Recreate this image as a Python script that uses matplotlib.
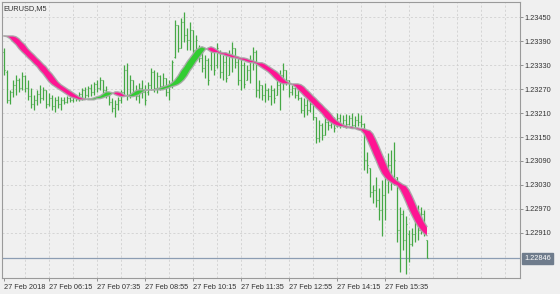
import matplotlib
matplotlib.use("Agg")
import matplotlib.pyplot as plt
import numpy as np

plt.rcParams['font.family'] = ['Liberation Sans', 'DejaVu Sans']

symbol = "EURUSD,M5"

high = [1.23373, 1.23318, 1.23268, 1.23293, 1.23306, 1.23298, 1.23313, 1.23306, 1.23293, 1.23273,
        1.23256, 1.23268, 1.23281, 1.23276, 1.23268, 1.23261, 1.23256, 1.23251, 1.23253, 1.23251,
        1.23251, 1.23253, 1.23251, 1.23253, 1.23253, 1.23263, 1.23273, 1.23276, 1.23278, 1.23283,
        1.23288, 1.23293, 1.23301, 1.23293, 1.23278, 1.23263, 1.23248, 1.23243, 1.23251, 1.23268,
        1.23331, 1.23336, 1.23306, 1.23293, 1.23281, 1.23286, 1.23293, 1.23281, 1.23288, 1.23323,
        1.23318, 1.23313, 1.23306, 1.23311, 1.23298, 1.23293, 1.23343, 1.23443, 1.23431, 1.23448,
        1.23463, 1.23423, 1.23438, 1.23418, 1.23406, 1.23381, 1.23363, 1.23356, 1.23348, 1.23373,
        1.23363, 1.23386, 1.23368, 1.23356, 1.23356, 1.23368, 1.23388, 1.23373, 1.23351, 1.23348,
        1.23338, 1.23331, 1.23356, 1.23376, 1.23368, 1.23293, 1.23281, 1.23286, 1.23273, 1.23281,
        1.23273, 1.23293, 1.23318, 1.23336, 1.23318, 1.23293, 1.23281, 1.23276, 1.23268, 1.23251,
        1.23248, 1.23251, 1.23243, 1.23236, 1.23201, 1.23193, 1.23186, 1.23198, 1.23211, 1.23206,
        1.23201, 1.23211, 1.23208, 1.23206, 1.23208, 1.23206, 1.23211, 1.23203, 1.23211, 1.23206,
        1.23186, 1.23113, 1.23073, 1.23031, 1.23051, 1.23023, 1.23043, 1.23068, 1.23111, 1.23118,
        1.23138, 1.23051, 1.22976, 1.22968, 1.22951, 1.22918, 1.22923, 1.22968, 1.22981, 1.22976,
        1.22968, 1.22893]
low = [1.23306, 1.23236, 1.23233, 1.23251, 1.23256, 1.23263, 1.23268, 1.23263, 1.23243, 1.23223,
       1.23218, 1.23231, 1.23236, 1.23243, 1.23223, 1.23228, 1.23218, 1.23213, 1.23223, 1.23218,
       1.23233, 1.23236, 1.23238, 1.23238, 1.23241, 1.23241, 1.23243, 1.23246, 1.23251, 1.23253,
       1.23256, 1.23263, 1.23268, 1.23261, 1.23248, 1.23231, 1.23213, 1.23201, 1.23218, 1.23236,
       1.23256, 1.23243, 1.23248, 1.23253, 1.23243, 1.23236, 1.23248, 1.23231, 1.23256, 1.23268,
       1.23263, 1.23261, 1.23268, 1.23273, 1.23253, 1.23243, 1.23273, 1.23348, 1.23363, 1.23373,
       1.23388, 1.23368, 1.23368, 1.23356, 1.23348, 1.23338, 1.23313, 1.23298, 1.23281, 1.23318,
       1.23306, 1.23323, 1.23298, 1.23293, 1.23288, 1.23306, 1.23313, 1.23323, 1.23281, 1.23268,
       1.23273, 1.23293, 1.23286, 1.23318, 1.23251, 1.23248, 1.23243, 1.23238, 1.23243, 1.23231,
       1.23236, 1.23256, 1.23218, 1.23268, 1.23281, 1.23251, 1.23256, 1.23248, 1.23243, 1.23211,
       1.23201, 1.23206, 1.23213, 1.23193, 1.23136, 1.23138, 1.23143, 1.23156, 1.23168, 1.23173,
       1.23163, 1.23176, 1.23173, 1.23176, 1.23173, 1.23181, 1.23173, 1.23173, 1.23178, 1.23176,
       1.23068, 1.23061, 1.23001, 1.22986, 1.22976, 1.22943, 1.22901, 1.22943, 1.23011, 1.23018,
       1.23031, 1.22886, 1.22811, 1.22868, 1.22806, 1.22836, 1.22876, 1.22886, 1.22893, 1.22906,
       1.22901, 1.22846]
open_ = [1.23363, 1.23313, 1.23243, 1.23263, 1.23281, 1.23293, 1.23273, 1.23303, 1.23273, 1.23253,
         1.23233, 1.23243, 1.23258, 1.23248, 1.23268, 1.23233, 1.23248, 1.23228, 1.23243, 1.23233,
         1.23243, 1.23238, 1.23248, 1.23243, 1.23251, 1.23246, 1.23258, 1.23268, 1.23256, 1.23273,
         1.23263, 1.23283, 1.23273, 1.23293, 1.23268, 1.23256, 1.23238, 1.23223, 1.23233, 1.23243,
         1.23263, 1.23318, 1.23256, 1.23293, 1.23263, 1.23253, 1.23273, 1.23263, 1.23263, 1.23281,
         1.23313, 1.23273, 1.23303, 1.23278, 1.23298, 1.23263, 1.23283, 1.23351, 1.23431, 1.23373,
         1.23438, 1.23406, 1.23393, 1.23418, 1.23368, 1.23373, 1.23348, 1.23323, 1.23343, 1.23331,
         1.23363, 1.23331, 1.23363, 1.23313, 1.23338, 1.23306, 1.23356, 1.23373, 1.23338, 1.23293,
         1.23331, 1.23293, 1.23318, 1.23343, 1.23363, 1.23268, 1.23281, 1.23256, 1.23268, 1.23253,
         1.23268, 1.23256, 1.23281, 1.23306, 1.23318, 1.23293, 1.23263, 1.23273, 1.23256, 1.23248,
         1.23218, 1.23231, 1.23218, 1.23233, 1.23201, 1.23148, 1.23181, 1.23156, 1.23188, 1.23181,
         1.23198, 1.23178, 1.23198, 1.23183, 1.23193, 1.23183, 1.23198, 1.23181, 1.23193, 1.23188,
         1.23183, 1.23093, 1.23073, 1.23013, 1.23018, 1.22993, 1.22968, 1.23006, 1.23048, 1.23081,
         1.23043, 1.23051, 1.22918, 1.22956, 1.22893, 1.22906, 1.22881, 1.22906, 1.22943, 1.22918,
         1.22956, 1.22893]
close = [1.23318, 1.23243, 1.23263, 1.23281, 1.23293, 1.23273, 1.23303, 1.23273, 1.23253, 1.23233,
         1.23243, 1.23258, 1.23248, 1.23268, 1.23233, 1.23248, 1.23228, 1.23243, 1.23233, 1.23243,
         1.23238, 1.23248, 1.23243, 1.23251, 1.23246, 1.23258, 1.23268, 1.23256, 1.23273, 1.23263,
         1.23283, 1.23273, 1.23293, 1.23268, 1.23256, 1.23238, 1.23223, 1.23233, 1.23243, 1.23263,
         1.23318, 1.23256, 1.23293, 1.23263, 1.23253, 1.23273, 1.23263, 1.23243, 1.23281, 1.23313,
         1.23273, 1.23303, 1.23278, 1.23298, 1.23263, 1.23283, 1.23338, 1.23431, 1.23373, 1.23438,
         1.23406, 1.23393, 1.23418, 1.23368, 1.23393, 1.23348, 1.23323, 1.23343, 1.23293, 1.23363,
         1.23318, 1.23373, 1.23313, 1.23338, 1.23298, 1.23356, 1.23373, 1.23338, 1.23293, 1.23331,
         1.23283, 1.23318, 1.23343, 1.23363, 1.23268, 1.23281, 1.23256, 1.23268, 1.23253, 1.23268,
         1.23248, 1.23281, 1.23306, 1.23318, 1.23293, 1.23263, 1.23273, 1.23256, 1.23248, 1.23218,
         1.23231, 1.23218, 1.23233, 1.23201, 1.23148, 1.23181, 1.23156, 1.23188, 1.23181, 1.23198,
         1.23173, 1.23198, 1.23183, 1.23193, 1.23183, 1.23198, 1.23181, 1.23193, 1.23188, 1.23183,
         1.23093, 1.23081, 1.23013, 1.23018, 1.22993, 1.22968, 1.23006, 1.23048, 1.23081, 1.23043,
         1.23093, 1.22918, 1.22956, 1.22893, 1.22931, 1.22881, 1.22906, 1.22943, 1.22918, 1.22956,
         1.22918, 1.22846]
smooth = [1.23403, 1.23401, 1.23396, 1.23388, 1.23381, 1.23371, 1.23363, 1.23356, 1.23348, 1.23341,
          1.23333, 1.23326, 1.23316, 1.23308, 1.23298, 1.23288, 1.23281, 1.23276, 1.23271, 1.23266,
          1.23261, 1.23256, 1.23251, 1.23248, 1.23246, 1.23243, 1.23243, 1.23243, 1.23246, 1.23246,
          1.23248, 1.23251, 1.23253, 1.23258, 1.23263, 1.23263, 1.23261, 1.23256, 1.23253, 1.23251,
          1.23251, 1.23253, 1.23256, 1.23261, 1.23266, 1.23268, 1.23268, 1.23268, 1.23268, 1.23268,
          1.23268, 1.23271, 1.23273, 1.23276, 1.23278, 1.23281, 1.23286, 1.23293, 1.23303, 1.23316,
          1.23326, 1.23338, 1.23348, 1.23358, 1.23368, 1.23373, 1.23376, 1.23373, 1.23368, 1.23363,
          1.23361, 1.23361, 1.23358, 1.23356, 1.23353, 1.23351, 1.23348, 1.23348, 1.23346, 1.23343,
          1.23341, 1.23338, 1.23336, 1.23336, 1.23333, 1.23328, 1.23323, 1.23318, 1.23313, 1.23306,
          1.23298, 1.23291, 1.23286, 1.23283, 1.23283, 1.23283, 1.23281, 1.23276, 1.23268, 1.23261,
          1.23253, 1.23246, 1.23238, 1.23231, 1.23223, 1.23216, 1.23208, 1.23198, 1.23191, 1.23186,
          1.23181, 1.23178, 1.23176, 1.23176, 1.23173, 1.23173, 1.23171, 1.23171, 1.23168, 1.23166,
          1.23158, 1.23143, 1.23126, 1.23108, 1.23091, 1.23073, 1.23058, 1.23048, 1.23041, 1.23036,
          1.23031, 1.23028, 1.23018, 1.23003, 1.22986, 1.22968, 1.22953, 1.22938, 1.22926, 1.22916,
          1.22908, 1.22903]

price_ticks = [1.23450, 1.23390, 1.23330, 1.23270, 1.23210, 1.23150, 1.23090, 1.23030, 1.22970, 1.22910]
time_tick_bars = [0, 15, 31, 47, 63, 79, 95, 111, 127]
time_tick_labels = ["27 Feb 2018", "27 Feb 06:15", "27 Feb 07:35", "27 Feb 08:55", "27 Feb 10:15",
                    "27 Feb 11:35", "27 Feb 12:55", "27 Feb 14:15", "27 Feb 15:35"]
current_price = 1.22846

W, H = 560, 294
fig = plt.figure(figsize=(W / 100, H / 100), dpi=100)
bg = '#f0f0f0'
fig.patch.set_facecolor(bg)
ax = fig.add_axes([2 / W, 16 / H, 518 / W, 276 / H])
ax.set_facecolor(bg)

n = len(close)
x = np.arange(n)
ax.set_xlim(-0.67, 172)
ax.set_ylim(1.22797, 1.23488)

# grid
for gx in range(7, 172, 8):
    ax.axvline(gx, color='#d0d0d0', lw=0.6, ls=(0, (2.5, 2.5)), zorder=0)
for p in price_ticks:
    ax.axhline(p, color='#d0d0d0', lw=0.6, ls=(0, (2.5, 2.5)), zorder=0)

# current price line
ax.axhline(current_price, color='#8c9db3', lw=0.9, zorder=1)

# OHLC bars
bar_col = '#45a845'
ax.vlines(x, low, high, color=bar_col, lw=0.9, zorder=2)
ax.hlines(open_, x - 0.45, x, color=bar_col, lw=0.8, zorder=2)
ax.hlines(close, x, x + 0.45, color=bar_col, lw=0.8, zorder=2)

# smoothed line with band
mid = np.array(smooth)
lag = np.concatenate([np.full(3, mid[0]), mid[:-3]])
ax.fill_between(x, mid, lag, where=mid < lag, interpolate=True, color='#ff1493', lw=0, zorder=3)
ax.fill_between(x, mid, lag, where=mid > lag, interpolate=True, color='#32cd32', lw=0, zorder=3)
ax.plot(x, lag, color='#a8a8a8', lw=1.0, zorder=4, alpha=0.9)
ax.plot(x, mid, color='#a8a8a8', lw=1.0, zorder=4, alpha=0.9)

# axes styling
for s in ax.spines.values():
    s.set_color('#9a9a9a')
    s.set_linewidth(0.8)

ax.yaxis.tick_right()
ax.set_yticks(price_ticks)
ax.set_yticklabels([f"{p:.5f}" for p in price_ticks])
ax.tick_params(axis='y', direction='out', length=2, width=0.6, color='#808080',
               labelsize=5.3, labelcolor='#333333', pad=1)
ax.set_xticks(time_tick_bars)
ax.set_xticklabels(time_tick_labels)
ax.tick_params(axis='x', direction='out', length=2.5, width=0.6, color='#808080',
               labelsize=5.3, labelcolor='#333333', pad=1.5)
for lbl in ax.get_xticklabels():
    lbl.set_ha('left')

# title
ax.text(2 / W, 1 - 3 / 276, symbol, transform=ax.transAxes, fontsize=5.3,
        color='#333333', ha='left', va='top')

# price tag
ax.annotate(f"{current_price:.5f}", xy=(1.0, current_price), xycoords=('axes fraction', 'data'),
            xytext=(3, 0), textcoords='offset points', fontsize=5.3, color='white',
            ha='left', va='center',
            bbox=dict(boxstyle='square,pad=0.25', fc='#6f7c8c', ec='#6f7c8c'))

fig.savefig('out.png', dpi=100, facecolor=bg)
